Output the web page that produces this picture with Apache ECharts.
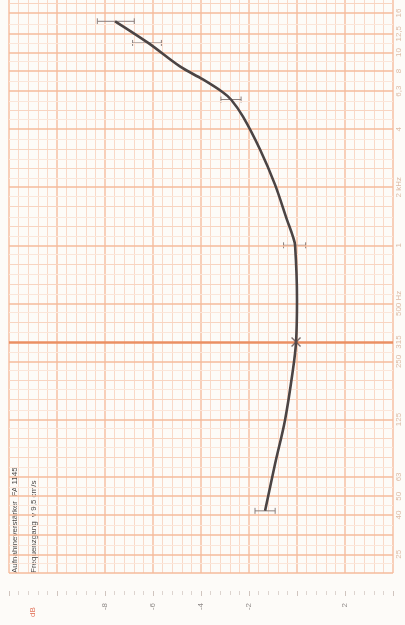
<!DOCTYPE html>
<html>
<head>
<meta charset="utf-8">
<script src="https://cdn.jsdelivr.net/npm/echarts@6/dist/echarts.min.js"></script>
<style>
html, body { margin: 0; padding: 0; background: #fdfbf8; }
#chart { width: 405px; height: 625px; }
</style>
</head>
<body>
<div id="chart"></div>
<script>
// Frequenzgang: Pegel (dB) ueber Frequenz (Hz), Blatt um 90 Grad gedreht
const curveFreq = [14500, 11200, 8460, 7240, 6200, 5700, 4650, 3140, 2070, 1360, 1110, 1000, 522, 315, 226, 124, 73, 42];
const curveLevel = [-7.58, -6.2, -4.88, -3.92, -3.08, -2.75, -2.25, -1.54, -0.92, -0.42, -0.17, -0.08, 0, -0.04, -0.17, -0.5, -0.92, -1.33];

// Toleranzbalken
const errFreq = [14500, 11200, 5700, 1000, 42];
const errLevel = [-7.55, -6.25, -2.75, -0.1, -1.33];
const errHalf = [0.77, 0.6, 0.42, 0.46, 0.42];

// Bezugspunkt
const refFreq = 315;
const refLevel = -0.04;

const freqTicks = [25, 40, 50, 63, 125, 250, 315, 500, 1000, 2000, 4000, 6300, 8000, 10000, 12500, 16000];
const freqTickLabels = ['25', '40', '50', '63', '125', '250', '315', '500 Hz', '1', '2 kHz', '4', '6,3', '8', '10', '12,5', '16'];
const levelLabels = [-8, -6, -4, -2, 2];

// Netzlinien des Papiers
const majorFreqLines = [20, 25, 31.5, 40, 50, 63, 125, 250, 500, 1000, 2000, 4000, 6300, 8000, 10000, 12500, 16000];
const thirdOctaveLines = [80, 100, 160, 200, 400, 630, 800, 1250, 1600, 2500, 3150, 5000, 18000];
const sixthOctaveLines = [22.4, 28, 35.5, 45, 56, 71, 90, 112, 140, 180, 224, 280, 355, 450, 560, 710, 900, 1120, 1400, 1800, 2240, 2800, 3550, 4500, 5600, 7100, 9000, 11200, 14000];

const chart = echarts.init(document.getElementById('chart'));

function hLines(list, color, width) {
    return list.map(f => ({ yAxis: f, lineStyle: { color: color, width: width, type: 'solid', opacity: 1 } }));
}

const txt = {
    fontSize: 8,
    fontFamily: 'Liberation Sans',
    fill: '#4e4a48',
    align: 'left',
    verticalAlign: 'middle'
};

let options = {
    animation: false,
    backgroundColor: '#fdfbf8',
    grid: { left: 9, right: 12, top: 0, bottom: 52 },
    xAxis: {
        type: 'value',
        min: -12,
        max: 4,
        interval: 2,
        offset: 18,
        axisLine: { show: false },
        axisTick: { show: true, length: 5, lineStyle: { color: '#d0c4be' } },
        minorTick: { show: true, splitNumber: 5, length: 4, lineStyle: { color: '#ddd4cf' } },
        splitLine: { show: true, lineStyle: { color: '#f6c1a5', width: 1.5, opacity: 1 } },
        minorSplitLine: { show: true, lineStyle: { color: '#f9d9c8', width: 1 } },
        axisLabel: {
            rotate: 90,
            margin: 12,
            fontSize: 8,
            color: '#8f8a88',
            formatter: v => (levelLabels.indexOf(v) >= 0 ? String(v) : '')
        }
    },
    yAxis: {
        type: 'log',
        logBase: 10,
        min: 20,
        max: 18700,
        axisLine: { show: false },
        axisTick: { show: false },
        axisLabel: { show: false },
        splitLine: { show: false }
    },
    graphic: [
        { type: 'text', x: 15, y: 573, rotation: Math.PI / 2, style: Object.assign({ text: 'Aufnahmeverstärker  FA 1145' }, txt) },
        { type: 'text', x: 34, y: 573, rotation: Math.PI / 2, style: Object.assign({ text: 'Frequenzgang  v 9,5 cm/s' }, txt) },
        { type: 'text', x: 33, y: 612, rotation: Math.PI / 2, style: Object.assign({}, txt, { text: 'dB', fill: '#e2735a', align: 'center' }) }
    ],
    series: [
        {
            // Frequenzbeschriftung rechts + waagerechte Netzlinien
            type: 'scatter',
            z: 1,
            silent: true,
            symbolSize: 1,
            itemStyle: { color: 'rgba(0,0,0,0)' },
            data: freqTicks.map((f, i) => ({ value: [4, f], label: { formatter: freqTickLabels[i] } })),
            label: {
                show: true,
                position: 'right',
                distance: 5,
                rotate: 90,
                align: 'center',
                verticalAlign: 'middle',
                fontSize: 8,
                color: '#d4aa90'
            },
            markLine: {
                silent: true,
                symbol: 'none',
                animation: false,
                label: { show: false },
                data: [
                    ...hLines(sixthOctaveLines, '#fbe6da', 1),
                    ...hLines(thirdOctaveLines, '#f8d4c1', 1),
                    ...hLines(majorFreqLines, '#f5bb9c', 1.5),
                    { yAxis: refFreq, lineStyle: { color: '#ea8f63', width: 2.5, type: 'solid', opacity: 1 } }
                ]
            }
        },
        {
            type: 'custom',
            z: 4,
            silent: true,
            encode: { x: 0, y: 1 },
            data: errFreq.map((f, i) => [errLevel[i], f, errHalf[i]]),
            renderItem: (params, api) => {
                const a = api.coord([api.value(0) - api.value(2), api.value(1)]);
                const b = api.coord([api.value(0) + api.value(2), api.value(1)]);
                const st = { stroke: '#8b7f7c', lineWidth: 1 };
                return {
                    type: 'group',
                    children: [
                        { type: 'line', shape: { x1: a[0], y1: a[1], x2: b[0], y2: b[1] }, style: st },
                        { type: 'line', shape: { x1: a[0], y1: a[1] - 3, x2: a[0], y2: a[1] + 3 }, style: st },
                        { type: 'line', shape: { x1: b[0], y1: b[1] - 3, x2: b[0], y2: b[1] + 3 }, style: st }
                    ]
                };
            }
        },
        {
            type: 'line',
            z: 5,
            silent: true,
            smooth: 0.35,
            showSymbol: false,
            lineStyle: { color: '#4b4444', width: 2.6 },
            data: curveFreq.map((f, i) => [curveLevel[i], f])
        },
        {
            type: 'scatter',
            z: 6,
            silent: true,
            symbol: 'path://M0,1L1,0L5,4L9,0L10,1L6,5L10,9L9,10L5,6L1,10L0,9L4,5Z',
            symbolSize: 10,
            itemStyle: { color: '#5b4b4b' },
            data: [[refLevel, refFreq]]
        }
    ]
};
chart.setOption(options);
</script>
</body>
</html>
